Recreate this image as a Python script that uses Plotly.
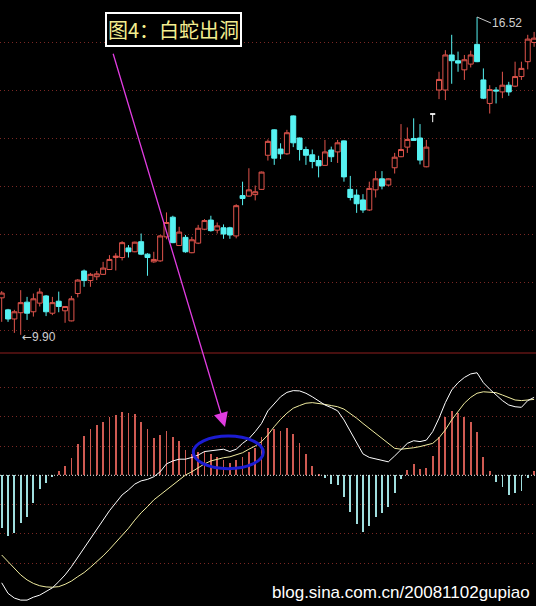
import plotly.graph_objects as go

# ---------------- data ----------------
idx = list(range(85))

opens = [10.67,10.42,10.23,10.36,10.58,10.38,10.56,10.71,10.35,10.60,
         10.40,10.19,10.76,11.23,11.03,11.11,11.16,11.26,11.51,11.51,
         11.71,11.63,11.84,11.58,11.42,11.44,11.94,12.35,11.76,11.93,
         11.61,11.81,12.10,12.29,12.08,12.13,12.13,11.96,12.80,12.79,
         12.82,12.93,13.64,14.17,13.77,13.67,14.46,14.00,13.76,13.65,
         13.53,13.43,13.75,13.71,13.94,12.93,12.81,12.71,12.50,12.92,
         13.15,13.02,13.38,13.61,13.81,13.99,14.00,13.40,14.50,15.00,
         15.00,15.73,15.61,15.42,15.54,15.95,15.21,14.72,15.00,14.96,
         15.10,15.08,15.28,15.59,15.99]
highs = [10.81,10.44,10.42,10.83,10.69,10.76,10.87,10.73,10.69,10.80,
         10.50,10.71,11.06,11.26,11.19,11.23,11.42,11.56,11.60,11.85,
         11.77,11.84,12.01,11.60,11.63,11.98,12.45,12.38,12.15,11.98,
         11.94,12.19,12.31,12.38,12.24,12.20,12.15,12.62,13.09,13.37,
         13.01,13.30,13.97,14.18,13.89,14.17,14.47,14.01,13.82,13.76,
         13.63,13.96,13.82,13.96,13.95,13.21,12.93,12.83,13.09,13.31,
         13.31,13.16,13.69,14.29,14.22,14.41,14.29,13.96,14.50,15.38,
         15.83,16.15,15.80,15.73,15.82,16.52,15.45,15.10,15.06,15.38,
         15.17,15.59,15.59,16.15,16.21]
lows = [10.17,10.17,9.94,9.90,10.21,10.28,10.49,10.29,10.31,10.37,
        10.15,10.18,10.68,10.90,10.90,11.04,11.15,11.25,11.24,11.45,
        11.51,11.62,11.56,11.13,11.40,11.42,11.89,11.81,11.75,11.61,
        11.60,11.79,12.08,12.05,12.01,11.90,11.90,11.91,12.60,12.78,
        12.70,12.92,13.53,13.44,13.56,13.65,13.81,13.53,13.44,13.37,
        13.18,13.42,13.50,13.48,13.09,12.70,12.44,12.44,12.48,12.76,
        12.93,13.00,13.26,13.60,13.69,13.94,13.45,13.39,14.33,14.81,
        14.79,15.13,15.38,15.21,15.47,15.58,14.81,14.51,14.72,14.83,
        14.88,15.06,15.21,15.43,15.90]
closes = [10.77,10.23,10.38,10.57,10.35,10.65,10.79,10.38,10.57,10.49,
          10.49,10.65,11.04,11.03,11.16,11.17,11.29,11.47,11.54,11.82,
          11.63,11.83,11.58,11.51,11.47,11.96,12.24,11.82,12.04,11.63,
          11.88,12.12,12.28,12.07,12.17,12.00,11.98,12.59,12.74,12.92,
          12.88,13.29,13.93,13.58,13.67,14.11,13.90,13.76,13.64,13.51,
          13.42,13.71,13.61,13.90,13.19,12.76,12.63,12.50,12.95,13.15,
          13.00,13.15,13.60,13.76,13.97,13.95,13.54,13.81,14.50,15.22,
          15.73,15.61,15.56,15.63,15.73,15.59,14.83,15.01,14.98,15.10,
          14.96,15.28,15.45,16.06,16.08]
doji_idx = [68]

hist = [-0.181,-0.206,-0.198,-0.162,-0.141,-0.094,-0.047,-0.027,-0.004,0.015,
        0.032,0.058,0.107,0.134,0.157,0.171,0.183,0.198,0.206,0.217,
        0.212,0.208,0.183,0.157,0.126,0.138,0.152,0.130,0.117,0.086,
        0.073,0.081,0.084,0.073,0.063,0.052,0.043,0.052,0.063,0.081,
        0.092,0.130,0.160,0.157,0.151,0.160,0.141,0.111,0.073,0.032,
        0.003,-0.010,-0.030,-0.033,-0.073,-0.124,-0.166,-0.192,-0.172,-0.141,
        -0.128,-0.107,-0.059,-0.014,0.018,0.039,0.023,0.026,0.066,0.130,
        0.198,0.220,0.214,0.198,0.183,0.149,0.063,0.015,-0.022,-0.041,
        -0.067,-0.061,-0.053,-0.008,0.016]
dif = [-0.367,-0.403,-0.419,-0.426,-0.426,-0.416,-0.409,-0.397,-0.384,-0.363,
       -0.340,-0.312,-0.280,-0.249,-0.215,-0.181,-0.150,-0.121,-0.094,-0.067,
       -0.050,-0.030,-0.019,-0.014,-0.005,0.012,0.039,0.049,0.055,0.055,
       0.061,0.069,0.081,0.084,0.086,0.089,0.081,0.089,0.109,0.125,
       0.149,0.177,0.220,0.246,0.268,0.283,0.289,0.288,0.280,0.268,
       0.255,0.240,0.231,0.220,0.189,0.152,0.115,0.073,0.061,0.056,
       0.050,0.046,0.066,0.089,0.109,0.118,0.115,0.120,0.149,0.195,
       0.248,0.291,0.316,0.334,0.346,0.350,0.316,0.294,0.274,0.255,
       0.240,0.234,0.232,0.255,0.266]
dea = [-0.272,-0.295,-0.317,-0.340,-0.357,-0.369,-0.377,-0.381,-0.382,-0.380,
       -0.372,-0.361,-0.346,-0.332,-0.314,-0.295,-0.275,-0.253,-0.230,-0.207,
       -0.181,-0.153,-0.128,-0.107,-0.084,-0.067,-0.050,-0.033,-0.016,0.001,
       0.012,0.026,0.039,0.049,0.055,0.060,0.063,0.069,0.077,0.089,
       0.100,0.115,0.138,0.166,0.191,0.212,0.229,0.238,0.246,0.248,
       0.246,0.242,0.238,0.234,0.226,0.212,0.195,0.177,0.160,0.143,
       0.126,0.107,0.092,0.089,0.091,0.094,0.098,0.103,0.109,0.128,
       0.155,0.189,0.217,0.246,0.266,0.280,0.285,0.284,0.282,0.274,
       0.265,0.257,0.255,0.257,0.259]

price_grid = [10, 11, 12, 13, 14, 15, 16]
macd_grid = [-0.3, -0.2, -0.1, 0.1, 0.2, 0.3]
low_label = "9.90"
high_label = "16.52"
title_text = "图4：白蛇出洞"
watermark = "blog.sina.com.cn/20081102gupiao"

# ---------------- styles ----------------
RED = "#e0544c"
CYAN = "#56f2f2"
HIST_RED = "#cf5a52"
HIST_CYAN = "#9fdede"
GRID = "#7a2824"
DOT = "1px,3px"

main = [i for i in idx if i not in doji_idx]

fig = go.Figure()
fig.add_trace(go.Candlestick(
    x=main,
    open=[opens[i] for i in main], high=[highs[i] for i in main],
    low=[lows[i] for i in main], close=[closes[i] for i in main],
    increasing=dict(line=dict(color=RED, width=1), fillcolor="black"),
    decreasing=dict(line=dict(color=CYAN, width=1), fillcolor=CYAN),
    whiskerwidth=0, hoverinfo="skip"))
fig.add_trace(go.Candlestick(
    x=doji_idx,
    open=[opens[i] for i in doji_idx], high=[highs[i] for i in doji_idx],
    low=[lows[i] for i in doji_idx], close=[closes[i] for i in doji_idx],
    increasing=dict(line=dict(color="white", width=1), fillcolor="white"),
    decreasing=dict(line=dict(color="white", width=1), fillcolor="white"),
    whiskerwidth=0, hoverinfo="skip"))

fig.add_trace(go.Bar(
    x=idx, y=hist, yaxis="y2", width=0.13,
    marker=dict(color=[HIST_RED if h >= 0 else HIST_CYAN for h in hist], line=dict(width=0)),
    hoverinfo="skip"))
fig.add_trace(go.Scatter(x=idx, y=dea, yaxis="y2", mode="lines",
                         line=dict(color="#f0eca0", width=1), hoverinfo="skip"))
fig.add_trace(go.Scatter(x=idx, y=dif, yaxis="y2", mode="lines",
                         line=dict(color="#ffffff", width=1), hoverinfo="skip"))

SPLIT = 1 - 353 / 606

fig.update_layout(
    width=536, height=606, margin=dict(l=0, r=0, t=0, b=0),
    paper_bgcolor="black", plot_bgcolor="black", showlegend=False,
    boxgap=0.08, boxgroupgap=0.15, bargap=0,
    xaxis=dict(range=[-0.268, 84.30], visible=False, showgrid=False,
               rangeslider=dict(visible=False), domain=[0, 1]),
    yaxis=dict(domain=[SPLIT, 1], range=[9.521, 16.875], tickvals=price_grid,
               showticklabels=False, showgrid=True, gridcolor=GRID, griddash=DOT,
               gridwidth=1, zeroline=False, showline=False, ticks=""),
    yaxis2=dict(domain=[0, SPLIT], range=[-0.4461, 0.4174], tickvals=macd_grid,
                anchor="x", showticklabels=False, showgrid=True, gridcolor=GRID,
                griddash=DOT, gridwidth=1, zeroline=False, showline=False, ticks=""),
)

# zero line & separator
fig.add_shape(type="line", xref="paper", yref="y2", x0=0, x1=1, y0=0, y1=0,
              line=dict(color="#e8e8e8", width=1, dash="1px,2px"))
fig.add_shape(type="line", xref="paper", yref="paper", x0=0, x1=1, y0=SPLIT, y1=SPLIT,
              line=dict(color="#8e1e1e", width=1))

# blue ellipse
fig.add_shape(type="circle", xref="paper", yref="paper",
              x0=193.3 / 536, x1=263.3 / 536, y0=1 - 468.7 / 606, y1=1 - 436 / 606,
              line=dict(color="#1c1cd2", width=3))

# low / high labels
lo_i = lows.index(min(lows))
hi_i = highs.index(max(highs))
fig.add_annotation(x=lo_i, y=lows[lo_i], xref="x", yref="y",
                   text="<span style='font-family:DejaVu Sans'>←</span>" + low_label,
                   showarrow=False, xanchor="left", yanchor="middle", yshift=-2.5, xshift=-1,
                   font=dict(family="Liberation Sans", size=12, color="#d0d0d0"))
fig.add_annotation(x=hi_i, y=highs[hi_i], xref="x", yref="y", text=high_label,
                   showarrow=True, arrowhead=0, arrowwidth=1, arrowcolor="#c8c8c8",
                   ax=14, ay=6, axref="pixel", ayref="pixel", xanchor="left", yanchor="middle",
                   standoff=0, borderpad=0,
                   font=dict(family="Liberation Sans", size=12, color="#d0d0d0"))

# title box
fig.add_annotation(x=173 / 536, y=1 - 29.7 / 606, xref="paper", yref="paper",
                   text=title_text, showarrow=False, xanchor="center", yanchor="middle",
                   font=dict(family="Noto Sans CJK SC", size=20, color="#f4ee90"),
                   bgcolor="black", bordercolor="white", borderwidth=2, borderpad=1)

# magenta arrow
fig.add_annotation(x=225 / 536, y=1 - 427 / 606, xref="paper", yref="paper", text="",
                   showarrow=True, arrowhead=2, arrowsize=2.2, arrowwidth=1.3,
                   arrowcolor="#e03ce0", ax=112.7 - 225, ay=52.3 - 427,
                   axref="pixel", ayref="pixel", standoff=0)

# watermark
fig.add_annotation(x=532 / 536, y=1 - 592 / 606, xref="paper", yref="paper",
                   text=watermark, showarrow=False, xanchor="right", yanchor="middle",
                   font=dict(family="Liberation Sans", size=17, color="white"))

fig.write_html(
    "out.html",
    config={"displayModeBar": False},
    post_script="document.body.style.margin='0';document.body.style.padding='0';"
                "document.body.style.background='black';"
                "document.documentElement.style.background='black';",
)
